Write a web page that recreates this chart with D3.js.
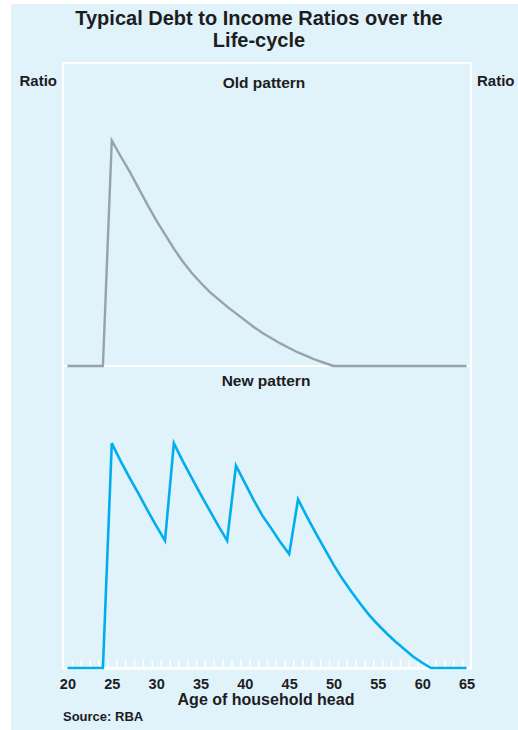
<!DOCTYPE html>
<html>
<head>
<meta charset="utf-8">
<script src="https://cdn.jsdelivr.net/npm/d3@7"></script>
<style>
  html, body { margin: 0; padding: 0; background: #ffffff; }
  svg { display: block; }
  text { font-family: "Liberation Sans", Arial, Helvetica, sans-serif; font-weight: bold; fill: #1d1d1f; }
</style>
</head>
<body>
<script>
// Age of household head (years)
const ages = [20, 21, 22, 23, 24, 25, 26, 27, 28, 29, 30, 31, 32, 33, 34, 35, 36, 37, 38, 39,
              40, 41, 42, 43, 44, 45, 46, 47, 48, 49, 50, 51, 52, 53, 54, 55, 56, 57, 58, 59,
              60, 61, 62, 63, 64, 65];

// Old pattern: one large loan at 25, paid off by 50
const oldRatio = [0, 0, 0, 0, 0,
                  3.00, 2.79, 2.59, 2.37, 2.15, 1.94, 1.75, 1.56, 1.39, 1.24, 1.11, 0.99, 0.89, 0.79, 0.70,
                  0.61, 0.52, 0.44, 0.37, 0.30, 0.24, 0.18, 0.13, 0.08, 0.04, 0,
                  0, 0, 0, 0, 0, 0, 0, 0, 0, 0, 0, 0, 0, 0, 0];

// New pattern: repeated re-borrowing, debt cleared only by 61
const newRatio = [0, 0, 0, 0, 0,
                  3.00, 2.76, 2.54, 2.33, 2.11, 1.90, 1.70,
                  3.00, 2.76, 2.54, 2.32, 2.11, 1.90, 1.70,
                  2.70, 2.47, 2.24, 2.03, 1.86, 1.68, 1.52,
                  2.25, 2.02, 1.80, 1.59, 1.38, 1.19, 1.02, 0.86, 0.71, 0.58, 0.46, 0.35, 0.25, 0.15,
                  0.07, 0,
                  0, 0, 0, 0];

const xTickLabels = [20, 25, 30, 35, 40, 45, 50, 55, 60, 65];
const panelTitles = ["Old pattern", "New pattern"];

const W = 518, H = 730;
const bg = "#e0f2fa";
const frame = { left: 63, right: 471, top: 63, mid: 366, bottom: 668 };
const yMax = 4.03;

const svg = d3.select("body").append("svg").attr("width", W).attr("height", H);

svg.append("rect").attr("x", 11).attr("y", 4).attr("width", W - 11).attr("height", H - 4).attr("fill", bg);

// Title
svg.append("text").attr("x", 259).attr("y", 25).attr("text-anchor", "middle")
  .style("font-size", "20px").text("Typical Debt to Income Ratios over the");
svg.append("text").attr("x", 259).attr("y", 47).attr("text-anchor", "middle")
  .style("font-size", "20px").text("Life-cycle");

// Unit labels
svg.append("text").attr("x", 57).attr("y", 86).attr("text-anchor", "end").style("font-size", "15px").text("Ratio");
svg.append("text").attr("x", 477).attr("y", 86).attr("text-anchor", "start").style("font-size", "15px").text("Ratio");

const x = d3.scaleLinear().domain([19.5, 65.5]).range([frame.left, frame.right]);
const yTop = d3.scaleLinear().domain([0, yMax]).range([frame.mid, frame.top]);
const yBot = d3.scaleLinear().domain([0, yMax]).range([frame.bottom, frame.mid]);

// Plot frame
const fg = svg.append("g").attr("fill", "none").attr("stroke", "#ffffff").attr("stroke-width", 2);
fg.append("rect").attr("x", frame.left).attr("y", frame.top)
  .attr("width", frame.right - frame.left).attr("height", frame.bottom - frame.top);
fg.append("line").attr("x1", frame.left).attr("x2", frame.right).attr("y1", frame.mid).attr("y2", frame.mid);

// Year ticks along the bottom axis, between the years
const yearBounds = ages.slice(0, -1).map(a => a + 0.5);
const tickAxis = d3.axisBottom(x).tickValues(yearBounds).tickFormat("").tickSizeInner(-8).tickSizeOuter(0);
const tg = svg.append("g").attr("transform", `translate(0,${frame.bottom})`).call(tickAxis);
tg.select(".domain").attr("stroke", "#ffffff").attr("stroke-width", 2.5);
tg.selectAll(".tick line").attr("stroke", "#ffffff").attr("stroke-width", 1.5);

// Tick labels
const labelAxis = d3.axisBottom(x).tickValues(xTickLabels).tickFormat(d3.format("d")).tickSize(0).tickPadding(11);
const lg = svg.append("g").attr("transform", `translate(0,${frame.bottom})`).call(labelAxis);
lg.select(".domain").remove();
lg.selectAll(".tick text").style("font-size", "14.5px")
  .style("font-family", "'Liberation Sans', Arial, sans-serif").style("font-weight", "bold").attr("fill", "#1d1d1f");

// Panel titles
svg.append("text").attr("x", 264).attr("y", 88).attr("text-anchor", "middle").style("font-size", "15.5px").text(panelTitles[0]);
svg.append("text").attr("x", 266).attr("y", 386).attr("text-anchor", "middle").style("font-size", "15.5px").text(panelTitles[1]);

// Series lines
const lineTop = d3.line().x((d, i) => x(ages[i])).y(d => yTop(d));
const lineBot = d3.line().x((d, i) => x(ages[i])).y(d => yBot(d));

svg.append("path").datum(oldRatio).attr("d", lineTop)
  .attr("fill", "none").attr("stroke", "#97a3ab").attr("stroke-width", 2.4).attr("stroke-linejoin", "miter");
svg.append("path").datum(newRatio).attr("d", lineBot)
  .attr("fill", "none").attr("stroke", "#00aeef").attr("stroke-width", 2.6).attr("stroke-linejoin", "miter");

// Axis title and source
svg.append("text").attr("x", 266).attr("y", 705).attr("text-anchor", "middle").style("font-size", "16px").text("Age of household head");
svg.append("text").attr("x", 63).attr("y", 721).attr("text-anchor", "start").style("font-size", "13px").text("Source: RBA");
</script>
</body>
</html>
